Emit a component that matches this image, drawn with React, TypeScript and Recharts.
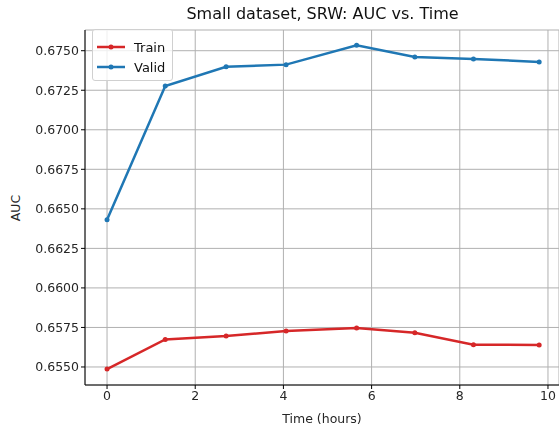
import React from "react";
import { LineChart, Line, XAxis, YAxis, CartesianGrid } from "recharts";

const hours = [0, 1.32, 2.7, 4.06, 5.66, 6.98, 8.31, 9.8];
const trainAuc = [0.65487, 0.65674, 0.65696, 0.65727, 0.65746, 0.65717, 0.65641, 0.65639];
const validAuc = [0.66431, 0.67277, 0.67399, 0.67412, 0.67534, 0.6746, 0.67448, 0.67429];
const xTicks = [0, 2, 4, 6, 8, 10];
const yTicks = [0.655, 0.6575, 0.66, 0.6625, 0.665, 0.6675, 0.67, 0.6725, 0.675];

const series = [
  { key: "train", name: "Train", color: "#d62728" },
  { key: "valid", name: "Valid", color: "#1f77b4" },
];

const data = hours.map((h, i) => ({ time: h, train: trainAuc[i], valid: validAuc[i] }));

const FONT = "'DejaVu Sans', sans-serif";
const tickStyle = { fontSize: 12.5, fill: "#262626", fontFamily: FONT };

export default function App() {
  // fixed so the page never gets scrollbars; the plot runs off the right edge like the original
  return (
    <div style={{ position: "fixed", left: 0, top: 0, width: 559, height: 427, fontFamily: FONT, background: "#fff" }}>
      <div
        style={{
          position: "absolute",
          left: 0,
          width: 645,
          top: 6,
          textAlign: "center",
          fontSize: 16,
          color: "#111",
          lineHeight: "16px",
          whiteSpace: "nowrap",
        }}
      >
        Small dataset, SRW: AUC vs. Time
      </div>
      <div
        style={{
          position: "absolute",
          left: 15,
          top: 208,
          transform: "translate(-50%, -50%) rotate(-90deg)",
          fontSize: 12.5,
          color: "#262626",
          whiteSpace: "nowrap",
        }}
      >
        AUC
      </div>
      <LineChart width={559} height={427} data={data} margin={{ top: 30, right: 0, bottom: 0, left: 0 }}>
        <CartesianGrid xAxisId="b" stroke="#b0b0b0" strokeWidth={1} />
        <XAxis
          xAxisId="b"
          dataKey="time"
          type="number"
          domain={[-0.5, 10.25]}
          ticks={xTicks}
          allowDataOverflow
          height={42}
          axisLine={{ stroke: "#000" }}
          tickLine={{ stroke: "#000" }}
          tickSize={4}
          tick={tickStyle}
          label={{ value: "Time (hours)", position: "insideBottom", offset: 4, style: tickStyle }}
        />
        <XAxis
          xAxisId="t"
          orientation="top"
          dataKey="time"
          type="number"
          domain={[-0.5, 10.25]}
          height={0}
          tick={false}
          tickLine={false}
          axisLine={{ stroke: "#000" }}
        />
        <YAxis
          type="number"
          domain={[0.65386, 0.67631]}
          ticks={yTicks}
          allowDataOverflow
          width={85}
          axisLine={{ stroke: "#000" }}
          tickLine={{ stroke: "#000" }}
          tickSize={4}
          tick={tickStyle}
          tickFormatter={(v: number) => v.toFixed(4)}
        />
        {series.map((s) => (
          <Line
            key={s.key}
            xAxisId="b"
            dataKey={s.key}
            name={s.name}
            stroke={s.color}
            strokeWidth={2.5}
            dot={{ r: 2.5, fill: s.color, stroke: s.color, strokeWidth: 0 }}
            isAnimationActive={false}
          />
        ))}
      </LineChart>
      <div
        style={{
          position: "absolute",
          left: 92,
          top: 29,
          width: 81,
          height: 52,
          boxSizing: "border-box",
          border: "1px solid #d0d0d0",
          borderRadius: 3,
          background: "rgba(255,255,255,0.8)",
          fontSize: 13,
          color: "#111",
        }}
      >
        {series.map((s, i) => (
          <div
            key={s.key}
            style={{ position: "absolute", left: 4, top: 8 + i * 20, height: 18, display: "flex", alignItems: "center" }}
          >
            <svg width={28} height={10} style={{ marginRight: 9 }}>
              <line x1={0} y1={5} x2={28} y2={5} stroke={s.color} strokeWidth={2.5} />
              <circle cx={14} cy={5} r={2.5} fill={s.color} />
            </svg>
            <span>{s.name}</span>
          </div>
        ))}
      </div>
    </div>
  );
}
